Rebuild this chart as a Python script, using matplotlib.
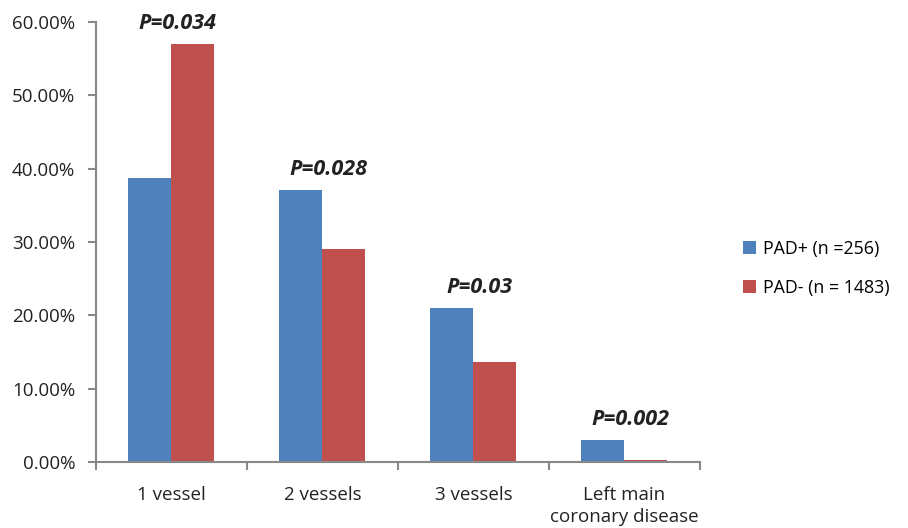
import matplotlib
matplotlib.use("Agg")
import matplotlib.pyplot as plt
import numpy as np

categories = ["1 vessel", "2 vessels", "3 vessels", "Left main\ncoronary disease"]
pad_pos = [38.7, 37.1, 21.0, 3.0]
pad_neg = [57.0, 29.0, 13.6, 0.3]
p_values = ["P=0.034", "P=0.028", "P=0.03", "P=0.002"]

plt.rcParams['font.family'] = ['Open Sans', 'DejaVu Sans']

fig = plt.figure(figsize=(9.08, 5.28), dpi=100)
ax = fig.add_axes([0.1057, 0.125, 0.665, 0.833])

x = np.arange(len(categories))
w = 0.285
ax.bar(x - w/2, pad_pos, w, color='#4F81BD', label='PAD+ (n =256)')
ax.bar(x + w/2, pad_neg, w, color='#C0504D', label='PAD- (n = 1483)')

for i, p in enumerate(p_values):
    top = max(pad_pos[i], pad_neg[i])
    ax.text(x[i] + 0.04, top + 1.4, p, ha='center', va='bottom',
            fontsize=15.5, fontweight='bold', fontstyle='italic', color='#222222')

ax.set_xlim(-0.5, len(categories) - 0.5)
ax.set_ylim(0, 60)
ax.set_yticks(np.arange(0, 61, 10))
ax.set_yticklabels(['%.2f%%' % v for v in np.arange(0, 61, 10)])
ax.set_xticks(x)
ax.set_xticklabels(categories, linespacing=1.3)
ax.tick_params(axis='x', length=0, pad=17, labelsize=13.5, colors='#222222')
ax.set_xticks(np.arange(-0.5, len(categories)), minor=True)
ax.tick_params(axis='x', which='minor', length=6, color='#888888', width=1.5)
ax.tick_params(axis='y', length=6, pad=9, color='#888888', width=1.5,
               labelsize=13.5, labelcolor='#222222')

for s in ['top', 'right']:
    ax.spines[s].set_visible(False)
for s in ['left', 'bottom']:
    ax.spines[s].set_color('#888888')
    ax.spines[s].set_linewidth(1.5)

ax.legend(loc='center left', bbox_to_anchor=(1.045, 0.44), frameon=False,
          fontsize=12.8, handlelength=0.75, handleheight=0.75, labelspacing=1.2,
          handletextpad=0.4)

fig.savefig('out.png', dpi=100)
